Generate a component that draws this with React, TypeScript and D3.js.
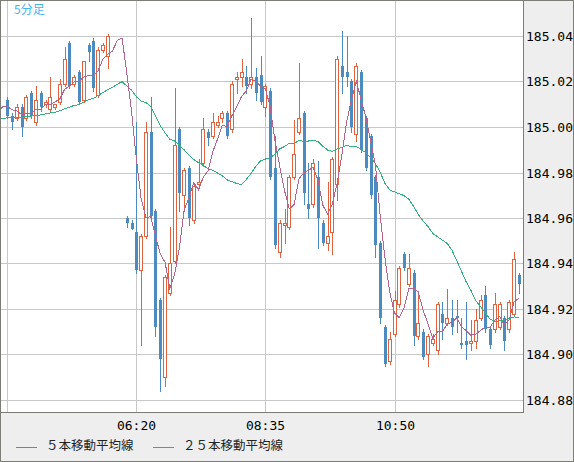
import React from 'react';
import * as d3 from 'd3';

const W = 574;
const H = 462;

// OHLC of the 108 visible 5-minute bars (04:05 .. 13:00)
const opens = [
  185.012, 185.005, 185.004, 185.009, 185.004, 185.015, 185.002, 185.015, 185.010, 185.008,
  185.009, 185.011, 185.019, 185.037, 185.019, 185.024, 185.012, 185.036, 185.038, 185.014,
  185.034, 185.031, 185.040, 185.040, 185.040, 184.960, 184.958, 184.954, 184.937, 184.952,
  184.998, 184.963, 184.924, 184.890, 184.927, 184.941, 184.999, 184.970, 184.982, 184.959,
  184.975, 184.984, 184.998, 184.996, 185.001, 185.004, 185.006, 184.999, 185.021, 185.022,
  185.022, 185.019, 185.022, 185.023, 185.009, 185.016, 184.982, 184.945, 184.957, 184.956,
  184.978, 184.998, 185.006, 184.966, 184.966, 184.978, 184.958, 184.949, 184.954, 184.975,
  185.027, 185.024, 185.020, 184.997, 185.024, 185.004, 184.996, 184.978, 184.949, 184.912,
  184.897, 184.909, 184.922, 184.944, 184.931, 184.936, 184.908, 184.910, 184.900, 184.905,
  184.902, 184.918, 184.914, 184.916, 184.917, 184.905, 184.906, 184.905, 184.906, 184.916,
  184.926, 184.911, 184.911, 184.912, 184.916, 184.911, 184.918, 184.935,
];
const highs = [
  185.013, 185.006, 185.010, 185.010, 185.014, 185.016, 185.018, 185.016, 185.012, 185.022,
  185.010, 185.021, 185.035, 185.038, 185.023, 185.025, 185.029, 185.037, 185.039, 185.035,
  185.037, 185.041, 185.040, 185.040, 185.040, 184.961, 184.959, 185.002, 184.953, 185.002,
  185.013, 184.964, 184.925, 184.935, 184.956, 185.017, 185.000, 184.982, 184.983, 184.975,
  184.986, 185.004, 184.999, 185.006, 185.005, 185.007, 185.007, 185.020, 185.024, 185.030,
  185.027, 185.048, 185.026, 185.031, 185.019, 185.017, 184.996, 184.959, 184.964, 184.979,
  185.003, 185.028, 185.007, 184.984, 184.986, 184.985, 184.959, 184.976, 184.987, 185.031,
  185.042, 185.040, 185.021, 185.028, 185.025, 185.005, 184.997, 184.979, 184.950, 184.913,
  184.910, 184.928, 184.939, 184.945, 184.944, 184.937, 184.928, 184.911, 184.909, 184.909,
  184.923, 184.923, 184.929, 184.924, 184.924, 184.916, 184.923, 184.915, 184.920, 184.926,
  184.930, 184.912, 184.927, 184.923, 184.917, 184.924, 184.945, 184.936,
];
const lows = [
  185.004, 184.999, 185.003, 184.996, 185.003, 185.004, 185.001, 185.007, 185.009, 185.007,
  185.008, 185.010, 185.018, 185.017, 185.018, 185.010, 185.011, 185.029, 185.016, 185.013,
  185.033, 185.026, 185.040, 185.040, 185.040, 184.956, 184.955, 184.936, 184.904, 184.951,
  184.960, 184.908, 184.884, 184.886, 184.926, 184.940, 184.963, 184.963, 184.957, 184.958,
  184.974, 184.983, 184.992, 184.995, 185.000, 185.002, 184.995, 184.998, 185.015, 185.018,
  185.015, 185.017, 185.012, 185.010, 185.005, 184.977, 184.947, 184.943, 184.949, 184.955,
  184.977, 184.997, 184.966, 184.960, 184.965, 184.947, 184.948, 184.946, 184.944, 184.968,
  185.015, 185.018, 184.998, 184.994, 184.989, 184.981, 184.969, 184.943, 184.914, 184.895,
  184.896, 184.908, 184.921, 184.937, 184.930, 184.904, 184.907, 184.898, 184.895, 184.904,
  184.900, 184.907, 184.913, 184.909, 184.910, 184.903, 184.898, 184.902, 184.903, 184.915,
  184.910, 184.903, 184.910, 184.911, 184.902, 184.910, 184.917, 184.927,
];
const closes = [
  185.005, 185.002, 185.009, 185.000, 185.013, 185.005, 185.012, 185.009, 185.011, 185.013,
  185.010, 185.019, 185.030, 185.018, 185.022, 185.011, 185.029, 185.033, 185.017, 185.034,
  185.036, 185.040, 185.040, 185.040, 185.040, 184.958, 184.955, 184.937, 184.952, 184.998,
  184.961, 184.912, 184.898, 184.934, 184.940, 184.992, 184.971, 184.981, 184.960, 184.974,
  184.976, 184.999, 184.995, 185.002, 185.002, 185.006, 184.996, 185.019, 185.022, 185.024,
  185.018, 185.022, 185.015, 185.011, 185.018, 184.978, 184.948, 184.958, 184.958, 184.978,
  184.988, 185.004, 184.971, 184.964, 184.984, 184.960, 184.949, 184.952, 184.986, 185.030,
  185.022, 185.022, 185.000, 185.027, 184.990, 184.982, 184.970, 184.948, 184.916, 184.896,
  184.907, 184.924, 184.938, 184.938, 184.938, 184.908, 184.914, 184.899, 184.908, 184.907,
  184.922, 184.914, 184.916, 184.912, 184.916, 184.904, 184.904, 184.906, 184.915, 184.924,
  184.911, 184.904, 184.922, 184.922, 184.906, 184.923, 184.942, 184.931,
];
// closes of the bars before the first visible bar (needed for the moving averages)
const priorCloses = [
  185.003, 185.001, 185.002, 185.004, 185.001, 185.003, 185.000, 185.005, 185.002, 184.999,
  185.003, 185.004, 185.002, 185.006, 185.003, 185.001, 185.004, 185.002, 185.005, 185.003,
  185.002, 185.004, 185.009, 185.012, 185.008, 185.011,
];

const yTicks = [184.88, 184.9, 184.92, 184.94, 184.96, 184.98, 185.0, 185.02, 185.04];
const xTickIndex = [0, 27, 54, 81];
const xTickLabels = ['', '06:20', '08:35', '10:50'];
const maPeriods = [5, 25];
const maColors = ['#b5648e', '#2fb27c'];
const legendLabels = ['５本移動平均線', '２５本移動平均線'];
const title = '5分足';

const UP = '#e0623f';
const DOWN = '#4b8bc0';

function movingAverage(period: number) {
  const all = priorCloses.concat(closes);
  const off = priorCloses.length;
  const out: { i: number; v: number }[] = [];
  for (let k = period - 1; k < all.length; k++) {
    const i = k - off;
    if (i < -2) continue;
    const v = d3.mean(all.slice(k - period + 1, k + 1)) as number;
    out.push({ i, v });
  }
  return out;
}

export default function App() {
  const plotL = 1;
  const plotR = 523;
  const plotT = 1;
  const plotB = 412;
  const x = d3.scaleLinear().domain([0, 107]).range([7.3, 518.8]);
  const y = d3.scaleLinear().domain([184.88, 185.04]).range([400, 36]);

  const line = d3
    .line<{ i: number; v: number }>()
    .x((d) => x(d.i))
    .y((d) => y(d.v));

  const candles = closes.map((c, i) => {
    const o = opens[i];
    const h = highs[i];
    const l = lows[i];
    const px = Math.round(x(i));
    const yo = Math.round(y(o));
    const yc = Math.round(y(c));
    const yh = Math.round(y(h));
    const yl = Math.round(y(l));
    if (c >= o) {
      const top = Math.min(yo, yc);
      const bot = Math.max(yo, yc);
      return (
        <g key={i}>
          {yh < top && <line x1={px + 0.5} x2={px + 0.5} y1={yh} y2={top} stroke={UP} />}
          {yl > bot && <line x1={px + 0.5} x2={px + 0.5} y1={bot + 1} y2={yl + 1} stroke={UP} />}
          <rect x={px - 1.5} y={top + 0.5} width={3} height={Math.max(0, bot - top)} fill="#fff" stroke={UP} />
        </g>
      );
    }
    const top = yo;
    const bot = yc;
    return (
      <g key={i}>
        <line x1={px + 0.5} x2={px + 0.5} y1={yh} y2={yl + 1} stroke={DOWN} />
        <rect x={px - 1} y={top} width={3} height={Math.max(1, bot - top)} fill={DOWN} />
      </g>
    );
  });

  return (
    <svg
      width={W}
      height={H}
      style={{ position: 'absolute', left: 0, top: 0, display: 'block' }}
      xmlns="http://www.w3.org/2000/svg"
    >
      <defs>
        <clipPath id="plotClip">
          <rect x={plotL} y={plotT} width={plotR - plotL} height={plotB - plotT} />
        </clipPath>
      </defs>
      <rect x={0} y={0} width={W} height={H} fill="#eeeeee" />
      <rect x={plotL} y={plotT} width={plotR - plotL} height={plotB - plotT} fill="#ffffff" />
      {/* grid */}
      <g shapeRendering="crispEdges" stroke="#c8c8c8" strokeWidth={1}>
        {yTicks.map((t) => (
          <line key={t} x1={plotL} x2={plotR} y1={Math.round(y(t)) + 0.5} y2={Math.round(y(t)) + 0.5} />
        ))}
        {xTickIndex.map((t) => (
          <line key={t} x1={Math.round(x(t)) + 0.5} x2={Math.round(x(t)) + 0.5} y1={plotT} y2={plotB} />
        ))}
      </g>
      <g clipPath="url(#plotClip)" shapeRendering="crispEdges">
        {candles}
        {maPeriods
          .slice()
          .reverse()
          .map((p, k) => {
            const idx = maPeriods.length - 1 - k;
            return (
              <path
                key={p}
                d={line(movingAverage(p)) || ''}
                fill="none"
                stroke={maColors[idx]}
                strokeWidth={1}
              />
            );
          })}
      </g>
      {/* plot frame */}
      <g shapeRendering="crispEdges" stroke="#7d7d78" strokeWidth={1} fill="none">
        <line x1={plotR + 0.5} x2={plotR + 0.5} y1={0} y2={plotB + 1} />
        <line x1={0} x2={plotR + 1} y1={plotB + 0.5} y2={plotB + 0.5} />
        <rect x={0.5} y={0.5} width={W - 1} height={H - 1} />
      </g>
      {/* y axis labels */}
      <g fontFamily="'DejaVu Sans Mono', 'Liberation Mono', monospace" fontSize={13} fill="#000">
        {yTicks.map((t) => (
          <text key={t} x={526} y={Math.round(y(t)) + 1} dominantBaseline="middle">
            {t.toFixed(2)}
          </text>
        ))}
        {xTickIndex.map((t, k) =>
          xTickLabels[k] ? (
            <text key={t} x={Math.round(x(t)) + 0.5} y={426} textAnchor="middle" dominantBaseline="middle">
              {xTickLabels[k]}
            </text>
          ) : null
        )}
      </g>
      {/* title */}
      <text
        x={14}
        y={11}
        fontFamily="'Noto Sans CJK JP', sans-serif"
        fontSize={12}
        fill="#45b6ea"
        dominantBaseline="middle"
      >
        {title}
      </text>
      {/* legend */}
      <g fontFamily="'Noto Sans CJK JP', sans-serif" fontSize={12.5} fill="#222">
        {legendLabels.map((lab, k) => {
          const lx = [16, 153][k];
          return (
            <g key={lab}>
              <line
                x1={lx}
                x2={lx + 21}
                y1={447.5}
                y2={447.5}
                stroke={maColors[k]}
                strokeWidth={1}
                shapeRendering="crispEdges"
              />
              <text x={lx + 30} y={447} dominantBaseline="middle">
                {lab}
              </text>
            </g>
          );
        })}
      </g>
    </svg>
  );
}
